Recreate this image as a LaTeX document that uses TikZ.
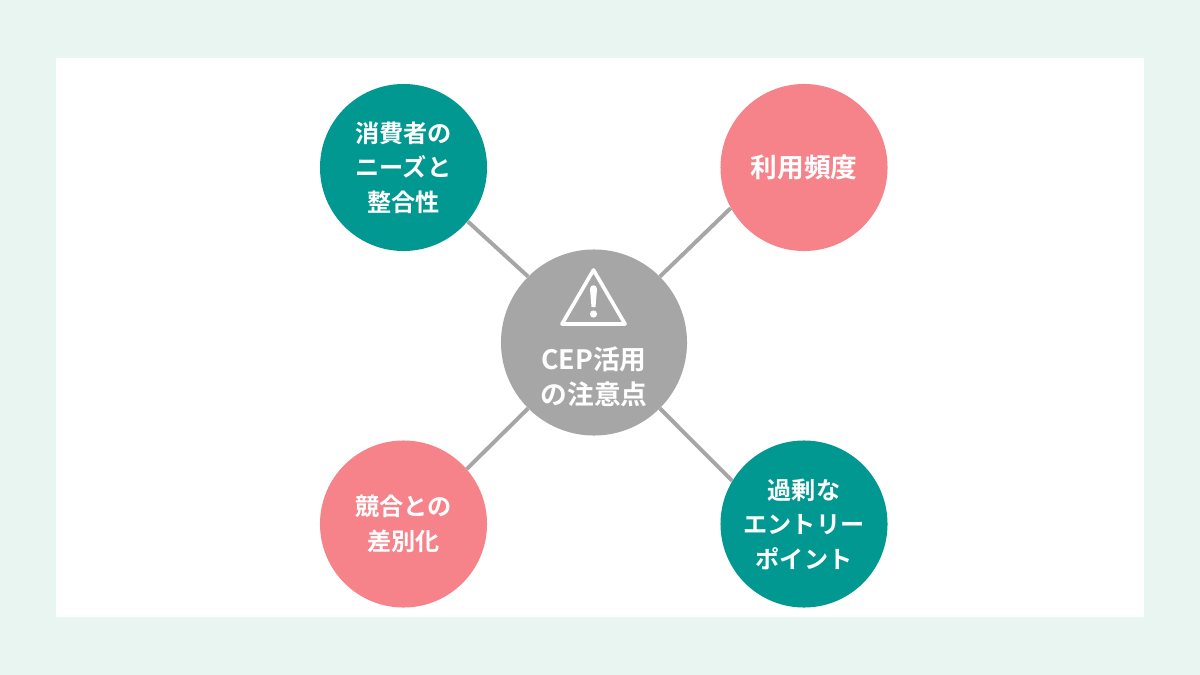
\documentclass[tikz,border=0pt]{standalone}
\usepackage{fontspec}
\setmainfont{Noto Sans CJK JP}[BoldFont={Noto Sans CJK JP Bold}]
\usepackage{tikz}
\definecolor{bgmint}{HTML}{E8F5F0}
\definecolor{tealcirc}{HTML}{009891}
\definecolor{pinkcirc}{HTML}{F6828A}
\definecolor{graycirc}{HTML}{A6A6A6}
\tikzset{
    topic/.style={circle,minimum size=4.175cm,inner sep=0pt,align=center,text=white,
        font=\fontsize{17.2}{24.5}\selectfont\bfseries},
    bigtopic/.style={topic,font=\fontsize{19}{24.5}\selectfont\bfseries},
    link/.style={line width=2.8pt,graycirc},
}

\begin{document}
\begin{tikzpicture}[x=0.025cm,y=-0.025cm]
        \useasboundingbox (0,0) rectangle (1200,675);
        \fill[bgmint] (0,0) rectangle (1200,675);
        \fill[white] (56,58) rectangle (1144,617);

        \node[topic,fill=graycirc,minimum size=4.65cm] (ctr) at (594,342.5) {};
        \node[topic,fill=tealcirc] (needs) at (403.5,167.5) {消費者の\\ニーズと\\整合性};
        \node[bigtopic,fill=pinkcirc] (freq) at (804,167.5) {利用頻度};
        \node[topic,fill=pinkcirc] (rival) at (403.5,524) {競合との\\差別化};
        \node[topic,fill=tealcirc] (entry) at (804,524) {過剰な\\エントリー\\ポイント};
        \node[bigtopic,minimum size=0pt] (ctrtext) at (594,377) {CEP活用\\の注意点};

        \draw[link] (ctr.135)--(needs.-40);
        \draw[link] (ctr.45)--(freq.209);
        \draw[link] (ctr.225)--(rival.41);
        \draw[link] (ctr.-45)--(entry.149);

        % warning sign
        \draw[white,line width=2.6pt,line join=round] (593.5,270)--(625,324)--(562,324)--cycle;
        \fill[white] (590,289) .. controls (590,284) and (597,284) .. (597,289)--(595.5,307)--(591.5,307)--cycle;
        \fill[white] (593.5,314) circle (3.6);
    \end{tikzpicture}
\end{document}
